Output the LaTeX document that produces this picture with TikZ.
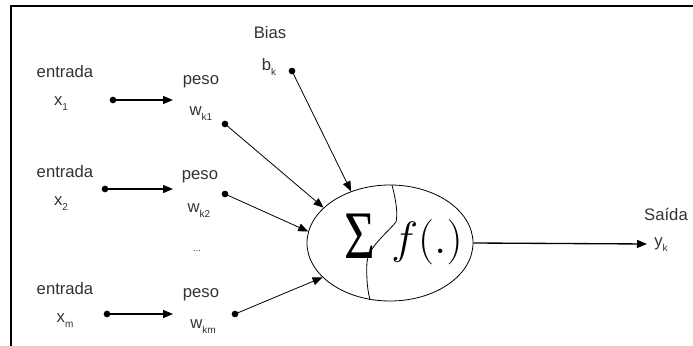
\RequirePackage{fix-cm}
\documentclass[tikz,border=0pt]{standalone}
\usepackage{fontspec}
\setmainfont{Liberation Sans}
\newfontfamily\serifgr{Liberation Serif}
\usepackage{tikz}
\usetikzlibrary{shapes.geometric,arrows.meta,positioning,calc}
\definecolor{txtGray}{RGB}{50,50,50}
\newcommand{\idx}[1]{\raisebox{-0.55ex}{\fontsize{7.5}{8}\selectfont #1}}
\tikzset{
  lbl/.style={inner sep=0pt,font=\fontsize{12.5}{14}\selectfont,text=txtGray},
  dot/.style={circle,fill=black,inner sep=0pt,minimum size=5pt},
  soma/.style={draw,ellipse,line width=0.6pt,minimum width=124.5pt,minimum height=87pt},
  big/.style={inner sep=0pt,font=\fontsize{34}{38}\selectfont},
  arr/.style={-{Triangle[length=7.5pt,width=6pt]},line width=1pt},
  darr/.style={-{Triangle[length=7.5pt,width=6pt]},line width=0.6pt},
  frame/.style={line width=1.1pt},
}

\begin{document}
\begin{tikzpicture}[x=0.75pt,y=-0.75pt]
  \useasboundingbox (0,0) rectangle (693,346);
  %% ── Frame ───────────────────────────────────────────────────────────────
  \draw[frame] (693,6) -- (11,6) -- (11,346);

  %% ── Neuron ──────────────────────────────────────────────────────────────
  \node[big,font=\serifgr\fontsize{51}{54}\selectfont] (sum) at (360,236) {\scalebox{0.78}[1]{Σ}};
  \node[big] (act) at (427,242) {$f(.)$};
  \node[soma] (neuron) at (390,243) {};
  \draw[line width=0.6pt] (392,185) .. controls (396,200) and (398,214) .. (396,222)
        .. controls (385,235) and (368,248) .. (367,262)
        .. controls (366,280) and (368,292) .. (370,300);

  %% ── Inputs and weights ──────────────────────────────────────────────────
  \node[lbl] (ent1) at (65,72)  {entrada};
  \node[lbl] (x1)   at (61,104) {x\idx{1}};
  \node[lbl] (ent2) at (65,172) {entrada};
  \node[lbl] (x2)   at (61,204) {x\idx{2}};
  \node[lbl] (entm) at (65,289) {entrada};
  \node[lbl] (xm)   at (65,321) {x\idx{m}};

  \node[lbl] (peso1) at (201,82)  {peso};
  \node[lbl] (w1)    at (201,114) {w\idx{k1}};
  \node[lbl] (peso2) at (200,177) {peso};
  \node[lbl] (w2)    at (199,211) {w\idx{k2}};
  \node[lbl] (dots)  at (197,251) {\fontsize{7}{8}\selectfont ...};
  \node[lbl] (pesom) at (201,295) {peso};
  \node[lbl] (wm)    at (203,327) {w\idx{km}};

  \node[lbl] (bias) at (270,33) {Bias};
  \node[lbl] (bk)   at (269,67) {b\idx{k}};

  \node[lbl] (said) at (666,214) {Saída};
  \node[lbl] (yk)   at (661,245) {y\idx{k}};

  %% ── Dots and arrow ends ─────────────────────────────────────────────────
  \node[dot] (dx1) at (113,100) {};
  \node[dot] (dx2) at (105,189) {};
  \node[dot] (dxm) at (107,314) {};
  \node[dot] (dw1) at (225,124) {};
  \node[dot] (dw2) at (225,194) {};
  \node[dot] (dwm) at (235,314) {};
  \node[dot] (db)  at (292,71)  {};
  \coordinate (ex1) at (173,100);
  \coordinate (ex2) at (173,189);
  \coordinate (exm) at (173,314);
  \coordinate (out) at (647,244);

  %% ── Arrows ──────────────────────────────────────────────────────────────
  \foreach \n in {1,2,m}{
    \draw[arr] (dx\n.center)--(ex\n);
  }
  \foreach \a/\b in {dw1/152,dw2/172,dwm/207,db/127}{
    \draw[darr] (\a.center)--(neuron.\b);
  }
  \draw[arr] (neuron.east)--(out);
\end{tikzpicture}
\end{document}
